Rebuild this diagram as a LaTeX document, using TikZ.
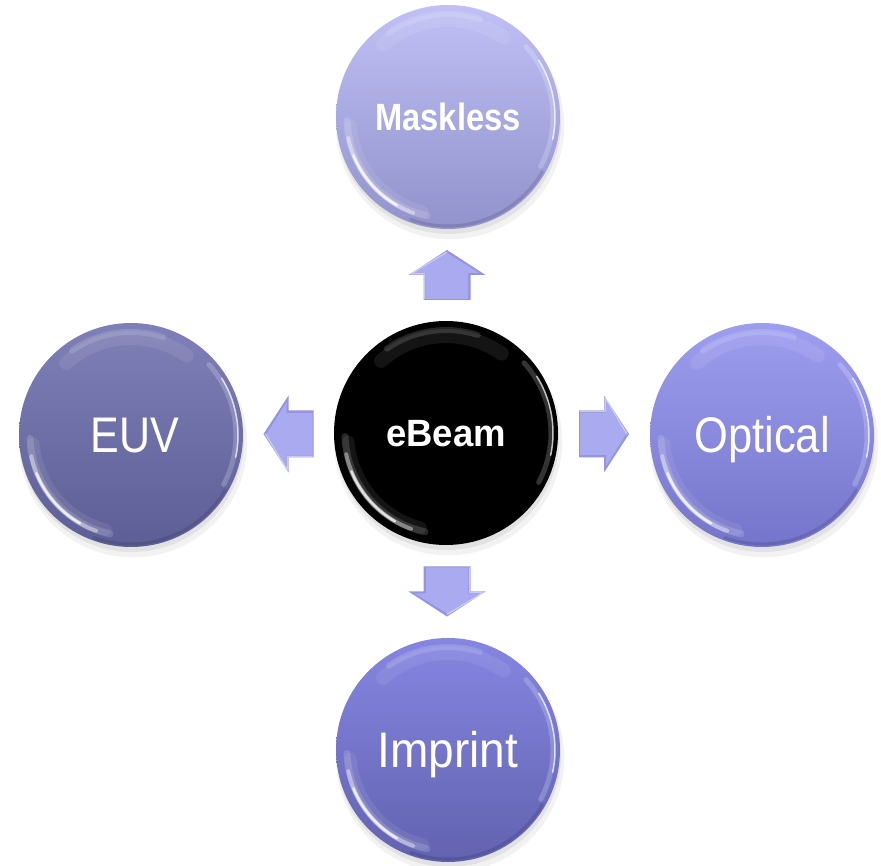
\documentclass[tikz,border=0pt]{standalone}
\usepackage{fontspec}
\usepackage{graphicx}
\setmainfont{Liberation Sans}
\usetikzlibrary{calc,shadows}

\definecolor{maskTop}{RGB}{192,192,246}
\definecolor{maskBot}{RGB}{146,146,204}
\definecolor{euvTop}{RGB}{128,128,184}
\definecolor{euvBot}{RGB}{94,94,150}
\definecolor{optTop}{RGB}{158,158,240}
\definecolor{optBot}{RGB}{116,116,202}
\definecolor{impTop}{RGB}{134,134,226}
\definecolor{impBot}{RGB}{98,98,176}
\definecolor{arrFill}{RGB}{170,170,240}
\definecolor{arrDark}{RGB}{148,148,224}

\tikzset{
  bubble/.style={circle, minimum size=224pt, inner sep=0pt, text=white,
    drop shadow={shadow xshift=2pt, shadow yshift=-8pt, shadow scale=1.02, opacity=0.10},
    drop shadow={shadow xshift=1pt, shadow yshift=-5pt, opacity=0.14}},
  bigword/.style={font=\fontsize{50pt}{60pt}\selectfont, text height=36pt, text depth=0pt},
  smallword/.style={font=\bfseries\fontsize{38pt}{46pt}\selectfont, text height=27pt, text depth=0pt},
  glint/.style={draw=white, line cap=round},
  blockarrow/.pic={
    \fill[arrDark] (-25,-23.5) -- (0,-23.5) -- (0,-38.5) -- (25,0) -- (0,38.5)
      -- (0,23.5) -- (-25,23.5) -- cycle;
    \fill[arrFill] (-24,-21) -- (2,-21) -- (2,-32) -- (22,0) -- (2,32)
      -- (2,21) -- (-24,21) -- cycle;
    \draw[white, opacity=0.5, line width=1.5pt, line join=round]
      (-24,22.5) -- (1,22.5) -- (1,36) -- (23,0);
  }
}

% glossy rim reflections on a round button
\newcommand\shine[1]{%
  \draw[glint, line width=12pt, opacity=.08] ($(#1.center)+(185:98)$) arc[start angle=185, end angle=255, radius=98];
  \draw[glint, line width=7pt, opacity=.15] ($(#1.center)+(182:101)$) arc[start angle=182, end angle=258, radius=101];
  \draw[glint, line width=4pt, opacity=.4] ($(#1.center)+(192:102)$) arc[start angle=192, end angle=250, radius=102];
  \draw[glint, line width=2.5pt, opacity=.75] ($(#1.center)+(202:102)$) arc[start angle=202, end angle=240, radius=102];
  \draw[glint, line width=5pt, opacity=.2] ($(#1.center)+(-28:105)$) arc[start angle=-28, end angle=42, radius=105];
  \draw[glint, line width=1.5pt, opacity=.7] ($(#1.center)+(-12:107)$) arc[start angle=-12, end angle=32, radius=107];
  \draw[glint, line width=14pt, opacity=.08] ($(#1.center)+(55:97)$) arc[start angle=55, end angle=132, radius=97];
  \draw[glint, line width=6pt, opacity=.14] ($(#1.center)+(72:103)$) arc[start angle=72, end angle=125, radius=103];
  \draw[black, line width=3pt, opacity=.12, line cap=round] ($(#1.center)+(250:109)$) arc[start angle=250, end angle=330, radius=109];
}

\begin{document}
\begin{tikzpicture}[x=1pt, y=1pt]
  \useasboundingbox (0,0) rectangle (881,865);

  % the five buttons
  \node[bubble, fill=black, smallword] (eb) at (446,432) {\scalebox{0.96}[1]{eBeam}};
  \node[bubble, top color=maskTop, bottom color=maskBot, smallword] (mk) at (448,748) {\scalebox{0.86}[1]{Maskless}};
  \node[bubble, top color=euvTop, bottom color=euvBot, bigword] (euv) at (131,430) {\hspace{8pt}\scalebox{0.86}[1]{EUV}};
  \node[bubble, top color=optTop, bottom color=optBot, bigword] (opt) at (762,430) {\scalebox{0.87}[1]{Optical}};
  \node[bubble, top color=impTop, bottom color=impBot, bigword] (imp) at (448,115) {\scalebox{0.92}[1]{Imprint}};

  \shine{eb}
  \shine{mk}
  \shine{euv}
  \shine{opt}
  \shine{imp}

  % block arrows pointing from eBeam to each technique
  \coordinate (aUp) at ($(eb.north)!0.5!(mk.south)$);
  \coordinate (aLeft) at ($(eb.west)!0.5!(euv.east)$);
  \coordinate (aRight) at ($(eb.east)!0.5!(opt.west)$);
  \coordinate (aDown) at ($(eb.south)!0.5!(imp.north)$);
  \pic[rotate=90] at (aUp) {blockarrow};
  \pic[rotate=180] at (aLeft) {blockarrow};
  \pic at (aRight) {blockarrow};
  \pic[rotate=-90] at (aDown) {blockarrow};
\end{tikzpicture}
\end{document}
